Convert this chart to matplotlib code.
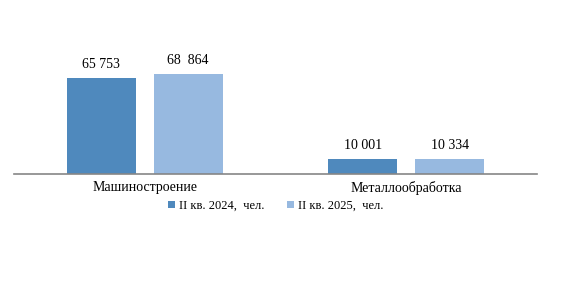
import matplotlib.pyplot as plt
import numpy as np

categories = ["Машиностроение", "Металлообработка"]
series_names = ["II кв. 2024,  чел.", "II кв. 2025,  чел."]
values_2024 = [65753, 10001]
values_2025 = [68864, 10334]
labels_2024 = ["65 753", "10 001"]
labels_2025 = ["68  864", "10 334"]

plt.rcParams["font.family"] = ["Liberation Serif", "DejaVu Serif"]

fig = plt.figure(figsize=(5.73, 2.95), dpi=100)
ax = fig.add_axes([14 / 573, 1 - 174 / 295, 523 / 573, 154 / 295])

x = np.arange(len(categories))
w = 0.264
off = 0.166
b1 = ax.bar(x - off, values_2024, w, color="#4F89BD", label=series_names[0])
b2 = ax.bar(x + off, values_2025, w, color="#97B9E0", label=series_names[1])

for bars, labs in [(b1, labels_2024), (b2, labels_2025)]:
    for r, t in zip(bars, labs):
        ax.text(r.get_x() + r.get_width() / 2, r.get_height() + 5000, t,
                ha="center", va="bottom", fontsize=10)

ax.set_xlim(-0.5, 1.5)
ax.set_ylim(0, 106000)
ax.set_xticks(x, labels=categories, fontsize=10)
ax.tick_params(axis="x", length=0, pad=5)
ax.set_yticks([])
for s in ["top", "right", "left"]:
    ax.spines[s].set_visible(False)
ax.spines["bottom"].set_color("#868686")
ax.spines["bottom"].set_linewidth(1.2)

ax.legend(loc="upper center", bbox_to_anchor=(0.5, -0.095), ncol=2, frameon=False,
          fontsize=9, handlelength=0.6, handleheight=0.6, handletextpad=0.3,
          columnspacing=1.8)

fig.savefig("out.png", dpi=100)
